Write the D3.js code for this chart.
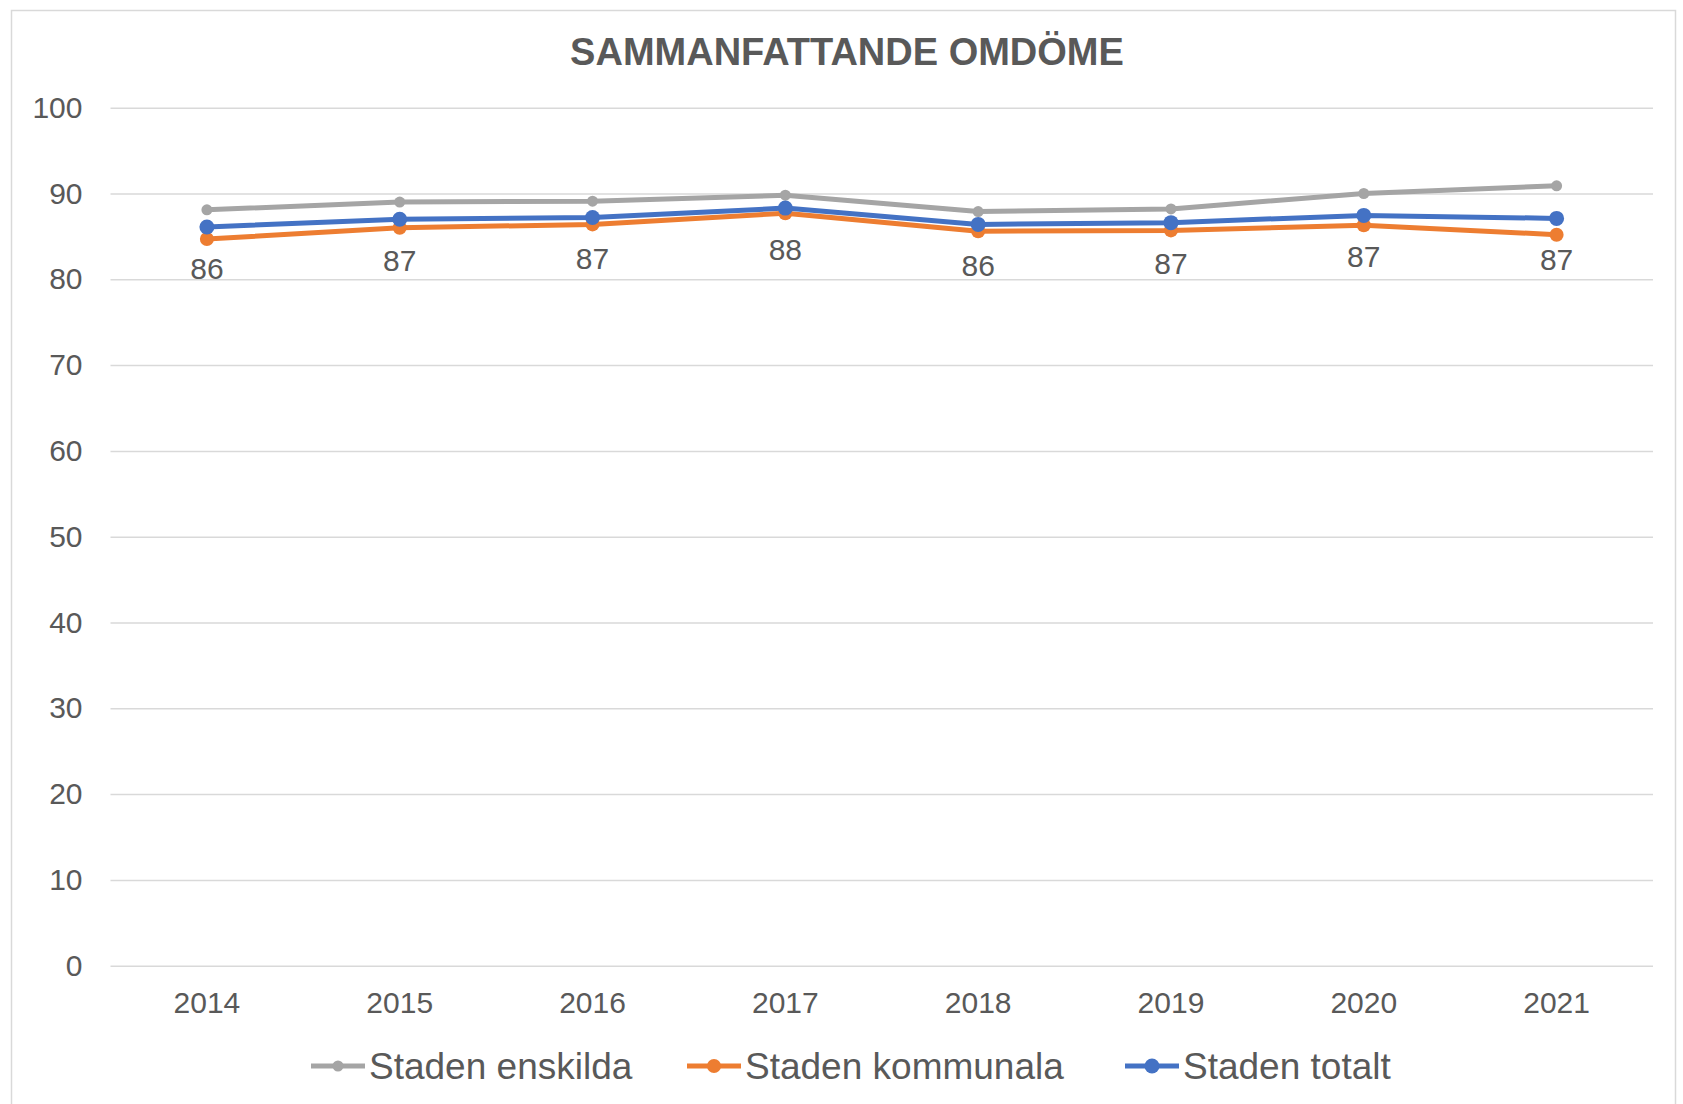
<!DOCTYPE html>
<html>
<head>
<meta charset="utf-8">
<script src="https://cdn.jsdelivr.net/npm/d3@7"></script>
<style>
  body { margin: 0; background: #fff; }
  svg { display: block; font-family: "Liberation Sans", Arial, sans-serif; }
</style>
</head>
<body>
<div id="chart"></div>
<script>
// Data
const years = ['2014', '2015', '2016', '2017', '2018', '2019', '2020', '2021'];
const enskilda = [88.1, 89.0, 89.1, 89.8, 87.9, 88.2, 90.0, 90.9];
const kommunala = [84.7, 86.0, 86.4, 87.7, 85.6, 85.7, 86.3, 85.2];
const totalt = [86.1, 87.0, 87.2, 88.3, 86.4, 86.6, 87.45, 87.1];
const yTicks = [0, 10, 20, 30, 40, 50, 60, 70, 80, 90, 100];

const series = [
    {name: 'Staden enskilda', values: enskilda, color: '#a5a5a5', r: 5.5},
    {name: 'Staden kommunala', values: kommunala, color: '#ed7d31', r: 7},
    {name: 'Staden totalt', values: totalt, color: '#4472c4', r: 7.5}
];

const w = 1683;
const h = 1104;
const padding = {t: 107.7, r: 30, b: 138.3, l: 110.5};
const textColor = '#595959';

const svg = d3.select('#chart')
    .append('svg')
    .attr('width', w)
    .attr('height', h);

// chart frame
svg.append('rect')
    .attr('x', 11.5)
    .attr('y', 10.5)
    .attr('width', 1664)
    .attr('height', 1110)
    .attr('fill', '#fff')
    .attr('stroke', '#d9d9d9')
    .attr('stroke-width', 1.5);

// Title
svg.append('text')
    .attr('x', 847)
    .attr('y', 51.5)
    .attr('dy', '0.36em')
    .attr('text-anchor', 'middle')
    .attr('font-size', 38)
    .attr('font-weight', 'bold')
    .attr('fill', textColor)
    .text('SAMMANFATTANDE OMDÖME');

// scales
const xScale = d3.scaleBand()
    .domain(years)
    .range([padding.l, w - padding.r]);
const yScale = d3.scaleLinear()
    .domain([0, 100])
    .range([h - padding.b, padding.t]);
const cx = d => xScale(d) + xScale.bandwidth() / 2;

// y axis + gridlines
const yAxis = d3.axisLeft(yScale)
    .tickValues(yTicks)
    .tickSize(-(w - padding.l - padding.r))
    .tickPadding(28);
svg.append('g')
    .attr('id', 'y-axis')
    .attr('transform', `translate(${padding.l}, 0)`)
    .call(yAxis)
    .call(g => g.select('.domain').remove())
    .call(g => g.selectAll('.tick line').attr('stroke', '#d9d9d9').attr('stroke-width', 1.5))
    .call(g => g.selectAll('.tick text')
        .attr('font-size', 30)
        .attr('fill', textColor)
        .attr('font-family', '"Liberation Sans", Arial, sans-serif'));

// x axis
const xAxis = d3.axisBottom(xScale).tickSize(0).tickPadding(26);
svg.append('g')
    .attr('id', 'x-axis')
    .attr('transform', `translate(0, ${h - padding.b})`)
    .call(xAxis)
    .call(g => g.select('.domain').remove())
    .call(g => g.selectAll('.tick text')
        .attr('font-size', 30)
        .attr('fill', textColor)
        .attr('font-family', '"Liberation Sans", Arial, sans-serif'));

// lines and markers
const line = d3.line()
    .x((d, i) => cx(years[i]))
    .y(d => yScale(d));

series.forEach(s => {
    const g = svg.append('g').attr('class', 'series');
    g.append('path')
        .datum(s.values)
        .attr('fill', 'none')
        .attr('stroke', s.color)
        .attr('stroke-width', 5)
        .attr('stroke-linejoin', 'round')
        .attr('stroke-linecap', 'round')
        .attr('d', line);
    g.selectAll('circle')
        .data(s.values)
        .join('circle')
        .attr('cx', (d, i) => cx(years[i]))
        .attr('cy', d => yScale(d))
        .attr('r', s.r)
        .attr('fill', s.color);
});

// data labels (totalt, below point)
svg.append('g')
    .selectAll('text')
    .data(totalt)
    .join('text')
    .attr('x', (d, i) => cx(years[i]))
    .attr('y', d => yScale(d) + 41)
    .attr('dy', '0.36em')
    .attr('text-anchor', 'middle')
    .attr('font-size', 30)
    .attr('fill', textColor)
    .text(d => d3.format('.0f')(d));

// Legend
const legendItems = [
    {s: series[0], x: 311},
    {s: series[1], x: 687},
    {s: series[2], x: 1125}
];
const legendY = 1066;
const legend = svg.append('g').attr('id', 'legend');
legendItems.forEach(item => {
    const g = legend.append('g').attr('transform', `translate(${item.x}, ${legendY})`);
    g.append('line')
        .attr('x1', 0).attr('x2', 54)
        .attr('stroke', item.s.color)
        .attr('stroke-width', 5);
    g.append('circle')
        .attr('cx', 27)
        .attr('r', item.s.r)
        .attr('fill', item.s.color);
    g.append('text')
        .attr('x', 58)
        .attr('dy', '0.36em')
        .attr('font-size', 37)
        .attr('fill', textColor)
        .text(item.s.name);
});
</script>
</body>
</html>
